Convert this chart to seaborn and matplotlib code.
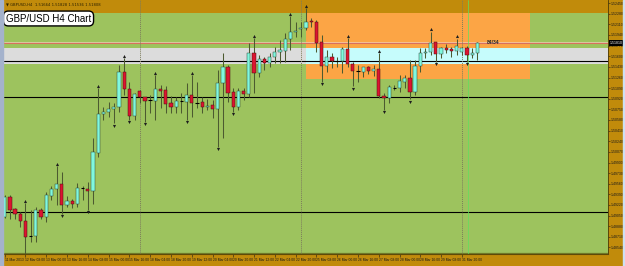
import numpy as np
import pandas as pd
import matplotlib
matplotlib.use("Agg")
import matplotlib.pyplot as plt
import matplotlib.transforms as mtransforms
import seaborn as sns

# ---------------- data (GBP/USD H4) ----------------
opens = [1.4903, 1.4934, 1.4916, 1.4908, 1.4897, 1.4872, 1.4872, 1.4914, 1.4903, 1.4936,
         1.4948, 1.4956, 1.4922, 1.4929, 1.4923, 1.4949, 1.4948, 1.4945, 1.5006, 1.5068,
         1.5071, 1.5076, 1.5079, 1.5135, 1.5108, 1.5065, 1.5104, 1.5094, 1.5090, 1.5089,
         1.5108, 1.5106, 1.5085, 1.5079, 1.5089, 1.5087, 1.5098, 1.5086, 1.5086, 1.5078,
         1.5082, 1.5076, 1.5117, 1.5143, 1.5102, 1.5078, 1.5105, 1.5099, 1.5165, 1.5133,
         1.5155, 1.5149, 1.5158, 1.5167, 1.5169, 1.5187, 1.5199, 1.5203, 1.5206, 1.5217,
         1.5214, 1.5182, 1.5145, 1.5158, 1.5152, 1.5152, 1.5172, 1.5148, 1.5136, 1.5134,
         1.5142, 1.5136, 1.5139, 1.5096, 1.5093, 1.5110, 1.5110, 1.5119, 1.5125, 1.5103,
         1.5145, 1.5165, 1.5167, 1.5182, 1.5164, 1.5173, 1.5171, 1.5169, 1.5167, 1.5173,
         1.5162, 1.5166]
highs = [1.4938, 1.4938, 1.4917, 1.4911, 1.4925, 1.4914, 1.4919, 1.4917, 1.4943, 1.4952,
         1.4984, 1.4974, 1.4936, 1.4931, 1.4957, 1.4952, 1.4958, 1.5030, 1.5109, 1.5078,
         1.5087, 1.5085, 1.5146, 1.5157, 1.5119, 1.5101, 1.5106, 1.5095, 1.5098, 1.5130,
         1.5114, 1.5112, 1.5096, 1.5095, 1.5101, 1.5117, 1.5130, 1.5118, 1.5095, 1.5091,
         1.5090, 1.5138, 1.5165, 1.5146, 1.5109, 1.5110, 1.5109, 1.5181, 1.5189, 1.5162,
         1.5159, 1.5165, 1.5175, 1.5186, 1.5197, 1.5224, 1.5215, 1.5215, 1.5237, 1.5221,
         1.5218, 1.5194, 1.5170, 1.5165, 1.5159, 1.5175, 1.5189, 1.5151, 1.5146, 1.5143,
         1.5144, 1.5146, 1.5165, 1.5101, 1.5114, 1.5114, 1.5130, 1.5130, 1.5154, 1.5154,
         1.5173, 1.5173, 1.5199, 1.5183, 1.5175, 1.5180, 1.5175, 1.5188, 1.5175, 1.5176,
         1.5173, 1.5183]
lows = [1.4901, 1.4899, 1.4900, 1.4887, 1.4840, 1.4863, 1.4863, 1.4899, 1.4894, 1.4930,
        1.4922, 1.4908, 1.4919, 1.4917, 1.4919, 1.4930, 1.4914, 1.4924, 1.4999, 1.5058,
        1.5063, 1.5053, 1.5071, 1.5098, 1.5058, 1.5058, 1.5085, 1.5055, 1.5069, 1.5058,
        1.5077, 1.5069, 1.5069, 1.5069, 1.5069, 1.5058, 1.5063, 1.5077, 1.5069, 1.5074,
        1.5061, 1.5015, 1.5029, 1.5087, 1.5071, 1.5074, 1.5090, 1.5095, 1.5101, 1.5127,
        1.5138, 1.5143, 1.5149, 1.5149, 1.5151, 1.5170, 1.5191, 1.5191, 1.5202, 1.5207,
        1.5167, 1.5119, 1.5135, 1.5141, 1.5143, 1.5133, 1.5143, 1.5112, 1.5119, 1.5127,
        1.5132, 1.5128, 1.5093, 1.5074, 1.5085, 1.5106, 1.5103, 1.5109, 1.5091, 1.5098,
        1.5135, 1.5157, 1.5162, 1.5151, 1.5157, 1.5165, 1.5158, 1.5162, 1.5162, 1.5151,
        1.5157, 1.5154]
closes = [1.4935, 1.4914, 1.4908, 1.4897, 1.4871, 1.4872, 1.4914, 1.4903, 1.4938, 1.4948,
          1.4956, 1.4922, 1.4929, 1.4924, 1.4949, 1.4949, 1.4944, 1.5007, 1.5068, 1.5071,
          1.5076, 1.5079, 1.5135, 1.5108, 1.5065, 1.5100, 1.5095, 1.5089, 1.5090, 1.5108,
          1.5105, 1.5084, 1.5079, 1.5088, 1.5089, 1.5098, 1.5086, 1.5086, 1.5078, 1.5081,
          1.5076, 1.5117, 1.5143, 1.5102, 1.5078, 1.5105, 1.5099, 1.5165, 1.5133, 1.5155,
          1.5150, 1.5158, 1.5167, 1.5170, 1.5187, 1.5199, 1.5201, 1.5206, 1.5215, 1.5214,
          1.5182, 1.5145, 1.5158, 1.5153, 1.5152, 1.5172, 1.5148, 1.5136, 1.5136, 1.5142,
          1.5136, 1.5139, 1.5096, 1.5093, 1.5110, 1.5110, 1.5120, 1.5125, 1.5103, 1.5145,
          1.5165, 1.5167, 1.5181, 1.5164, 1.5173, 1.5170, 1.5169, 1.5177, 1.5173, 1.5162,
          1.5166, 1.5181]

fractal_up = [4, 10, 18, 23, 29, 36, 48, 55, 58, 66, 72, 82, 87]
fractal_down = [4, 11, 16, 21, 24, 27, 35, 41, 44, 61, 67, 73, 78, 83, 89]

date_tick_bars = [0, 4, 8, 12, 16, 20, 24, 28, 32, 36, 40, 44, 48, 52, 56, 60, 64, 68, 72, 76, 80, 84, 88]
date_labels = ["11 Mar 2013", "12 Mar 08:00", "13 Mar 00:00", "13 Mar 16:00", "14 Mar 08:00",
               "15 Mar 00:00", "15 Mar 16:00", "18 Mar 04:00", "18 Mar 20:00", "19 Mar 12:00",
               "20 Mar 04:00", "20 Mar 20:00", "21 Mar 12:00", "22 Mar 04:00", "22 Mar 20:00",
               "25 Mar 08:00", "26 Mar 00:00", "26 Mar 16:00", "27 Mar 08:00", "28 Mar 00:00",
               "28 Mar 16:00", "29 Mar 08:00", "31 Mar 20:00"]
price_ticks = [1.5245 - 0.0017 * n for n in range(24)]
price_labels = [f"{p:.5f}" for p in price_ticks]

week_separators = [26, 57, 88]
green_vline = 89.25
h_lines_black = [1.51532, 1.50943, 1.49103]
h_line_red = 1.51815
zone_band = (1.51468, 1.51737)
orange_zone = (58.0, 101.1, 1.51236, 1.52292)
green_zone = (1.48452, 1.52292)
current_price = 1.51810

df = pd.DataFrame({"bar": np.arange(len(opens)), "open": opens, "high": highs,
                   "low": lows, "close": closes})

# ---------------- style ----------------
sns.set_theme(style="white")
plt.rcParams["font.family"] = ["Liberation Sans", "DejaVu Sans"]

BROWN = "#c18b0b"
GREEN = "#9dc35e"
ORANGE = "#fca545"
GREY = "#dcdcdc"
LCYAN = "#c6fcfc"
UP = "#80f8de"
DOWN = "#dc1430"
WICK = "#4c5a30"

fig = plt.figure(figsize=(6.25, 2.66), dpi=100, facecolor=BROWN)
ax = fig.add_axes([4 / 625, 12 / 266, 604 / 625, 254 / 266])
ax.set_facecolor(BROWN)

xmin, xmax = -0.135, 116.13
ymin, ymax = 1.48436, 1.5250
ax.set_xlim(xmin, xmax)
ax.set_ylim(ymin, ymax)

# background objects
ax.axhspan(green_zone[0], green_zone[1], color=GREEN, zorder=0, lw=0)
ax.axhline(green_zone[0], color="#6f7a2a", lw=0.9, zorder=0.5)
ax.fill_between([orange_zone[0], orange_zone[1]], orange_zone[2], orange_zone[3],
                color=ORANGE, lw=0, zorder=0.6)
ax.axhspan(zone_band[0], zone_band[1], color=GREY, lw=0, zorder=0.7)
ax.fill_between([orange_zone[0], orange_zone[1]], zone_band[0], zone_band[1],
                color=LCYAN, lw=0, zorder=0.8)
ax.axhline(h_line_red + 0.00018, color="#f3d0c0", lw=0.5, zorder=0.9)
ax.axhline(h_line_red, color="#d8705f", lw=0.8, zorder=0.9)
for p in h_lines_black:
    ax.axhline(p, color="black", lw=0.8, zorder=0.9)
for s in week_separators:
    ax.axvline(s, color="#7c7c5c", lw=0.7, ls=(0, (1, 1)), zorder=0.95)
ax.axvline(green_vline, color="#5fe05f", lw=0.5, zorder=0.95)

# candles
x = df["bar"].values
o = df["open"].values
c = df["close"].values
ax.vlines(x, df["low"], df["high"], color=WICK, lw=0.75, zorder=2)
doji = np.abs(c - o) < 0.00012
up = (c > o) & ~doji
dn = (c < o) & ~doji
ax.bar(x[up], (c - o)[up], bottom=o[up], width=0.62, color=UP, edgecolor="#2f4a3a",
       linewidth=0.35, zorder=3)
ax.bar(x[dn], (o - c)[dn], bottom=c[dn], width=0.62, color=DOWN, edgecolor="#4a1010",
       linewidth=0.35, zorder=3)
ax.hlines(o[doji], x[doji] - 0.33, x[doji] + 0.33, color="black", lw=0.8, zorder=3)

# fractal arrows
fu = pd.DataFrame({"bar": fractal_up, "p": df["high"].values[fractal_up] + 0.0004})
fd = pd.DataFrame({"bar": fractal_down, "p": df["low"].values[fractal_down] - 0.0004})
sns.scatterplot(data=fu, x="bar", y="p", marker="^", s=5, color="#1e1e1e",
                linewidth=0, ax=ax, legend=False, zorder=4)
sns.scatterplot(data=fd, x="bar", y="p", marker="v", s=5, color="#1e1e1e",
                linewidth=0, ax=ax, legend=False, zorder=4)

# axes / ticks
for side in ["top", "left"]:
    ax.spines[side].set_visible(False)
ax.spines["bottom"].set_color("#5e4a08")
ax.spines["bottom"].set_linewidth(0.8)
ax.spines["right"].set_color("#4a3a08")
ax.spines["right"].set_linewidth(0.6)
ax.yaxis.tick_right()
ax.set_yticks(price_ticks)
ax.set_yticklabels(price_labels)
ax.tick_params(axis="y", labelsize=2.5, length=1.2, width=0.4, pad=0.6,
               colors="#1a1a1a", right=True, left=False)
ax.set_xticks(date_tick_bars)
ax.set_xticklabels(date_labels, ha="left")
ax.tick_params(axis="x", labelsize=2.4, length=1.8, width=0.4, pad=1.2,
               colors="#1a1a1a", bottom=True)
ax.set_xlabel("")
ax.set_ylabel("")

# current price tag
trans = mtransforms.blended_transform_factory(ax.transAxes, ax.transData)
ax.text(1.003, current_price, f"{current_price:.5f}", transform=trans, fontsize=2.5,
        color="white", va="center", ha="left", clip_on=False,
        bbox=dict(boxstyle="square,pad=0.2", fc="black", ec="black", lw=0))
ax.text(92.8, h_line_red, "84/34", fontsize=3.6, color="#2a2a2a", va="center",
        ha="left", fontweight="bold", zorder=5)

# chart info & title
fig.text(6 / 625, 1 - 5 / 266, "\u25bc GBPUSD,H4  1.51664 1.51828 1.51536 1.51808",
         fontsize=2.7, color="#2a2000", va="center", ha="left",
         family=["DejaVu Sans"])
fig.text(48.5 / 625, 1 - 18.5 / 266, "GBP/USD H4 Chart", fontsize=7, color="black",
         va="center", ha="center",
         bbox=dict(boxstyle="round,pad=0.25,rounding_size=0.5", fc="white",
                   ec="black", lw=1.0))

# window borders
fig.patches.append(plt.Rectangle((0, 0), 3 / 625, 1, transform=fig.transFigure,
                                 color="#a4b2cc", zorder=10))
fig.patches.append(plt.Rectangle((623 / 625, 0), 2 / 625, 1, transform=fig.transFigure,
                                 color="#cfe0f2", zorder=10))

fig.savefig("out.png", dpi=100, facecolor=BROWN)
